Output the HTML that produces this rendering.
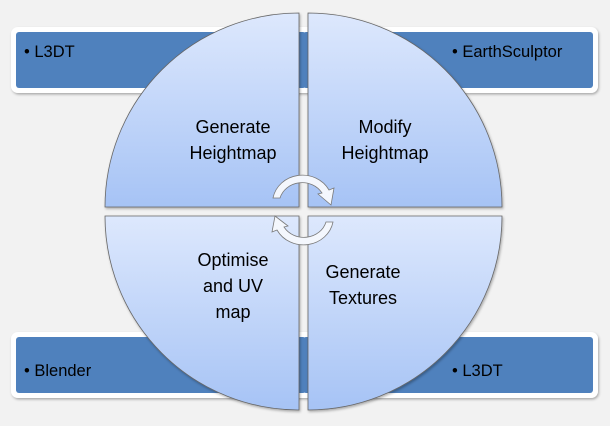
<!DOCTYPE html>
<html><head><style>
body{margin:0;width:610px;height:421px;background:#f2f2f2;overflow:hidden;font-family:"Liberation Sans",sans-serif}
</style></head><body>
<svg width="610" height="421" xmlns="http://www.w3.org/2000/svg">
<defs>
<linearGradient id="g" x1="0" y1="0" x2="0" y2="1">
<stop offset="0" stop-color="#dde8fd"/><stop offset="1" stop-color="#a6c3f5"/></linearGradient>
<filter id="sh" x="-10%" y="-10%" width="120%" height="130%"><feDropShadow dx="1" dy="1.5" stdDeviation="1.2" flood-color="#000" flood-opacity="0.3"/></filter>
</defs>
<g filter="url(#sh)">
<rect x="11" y="27" width="300" height="66" rx="7" fill="#fff"/>
<rect x="298" y="27" width="300" height="66" rx="7" fill="#fff"/>
<rect x="11" y="332" width="300" height="66" rx="7" fill="#fff"/>
<rect x="298" y="332" width="300" height="66" rx="7" fill="#fff"/>
</g>
<rect x="16" y="32" width="290" height="56" rx="3" fill="#4f81bd"/>
<rect x="303" y="32" width="290" height="56" rx="3" fill="#4f81bd"/>
<rect x="16" y="337" width="290" height="56" rx="3" fill="#4f81bd"/>
<rect x="303" y="337" width="290" height="56" rx="3" fill="#4f81bd"/>
<g font-size="16.5" fill="#000">
<text x="24" y="57">• L3DT</text>
<text x="452" y="57">• EarthSculptor</text>
<text x="24" y="376">• Blender</text>
<text x="452" y="376">• L3DT</text>
</g>
<g fill="url(#g)" stroke="#666" stroke-width="0.8" filter="url(#sh)">
<path d="M299 207 L105 207 A194 194 0 0 1 299 13 Z"/>
<path d="M308 207 L308 13 A194 194 0 0 1 502 207 Z"/>
<path d="M299 216 L299 410 A194 194 0 0 1 105 216 Z"/>
<path d="M308 216 L502 216 A194 194 0 0 1 308 410 Z"/>
</g>
<g font-size="18" fill="#000" text-anchor="middle">
<text x="233" y="133">Generate</text><text x="233" y="159">Heightmap</text>
<text x="385" y="133">Modify</text><text x="385" y="159">Heightmap</text>
<text x="233" y="266">Optimise</text><text x="233" y="292">and UV</text><text x="233" y="318">map</text>
<text x="363" y="278">Generate</text><text x="363" y="304">Textures</text>
</g>
<g fill="#f4f7fd" stroke="#7a7a7a" stroke-width="0.8">
<path d="M273 198 A30 28 0 0 1 329 190 L334 188 L331 205 L318 194 L322 193 A23 21 0 0 0 280 198 Z"/>
<path d="M333 222 A30 28 0 0 1 277 230 L272 232 L275 216 L288 226 L284 227 A23 21 0 0 0 326 222 Z"/>
</g>
</svg>
</body></html>
